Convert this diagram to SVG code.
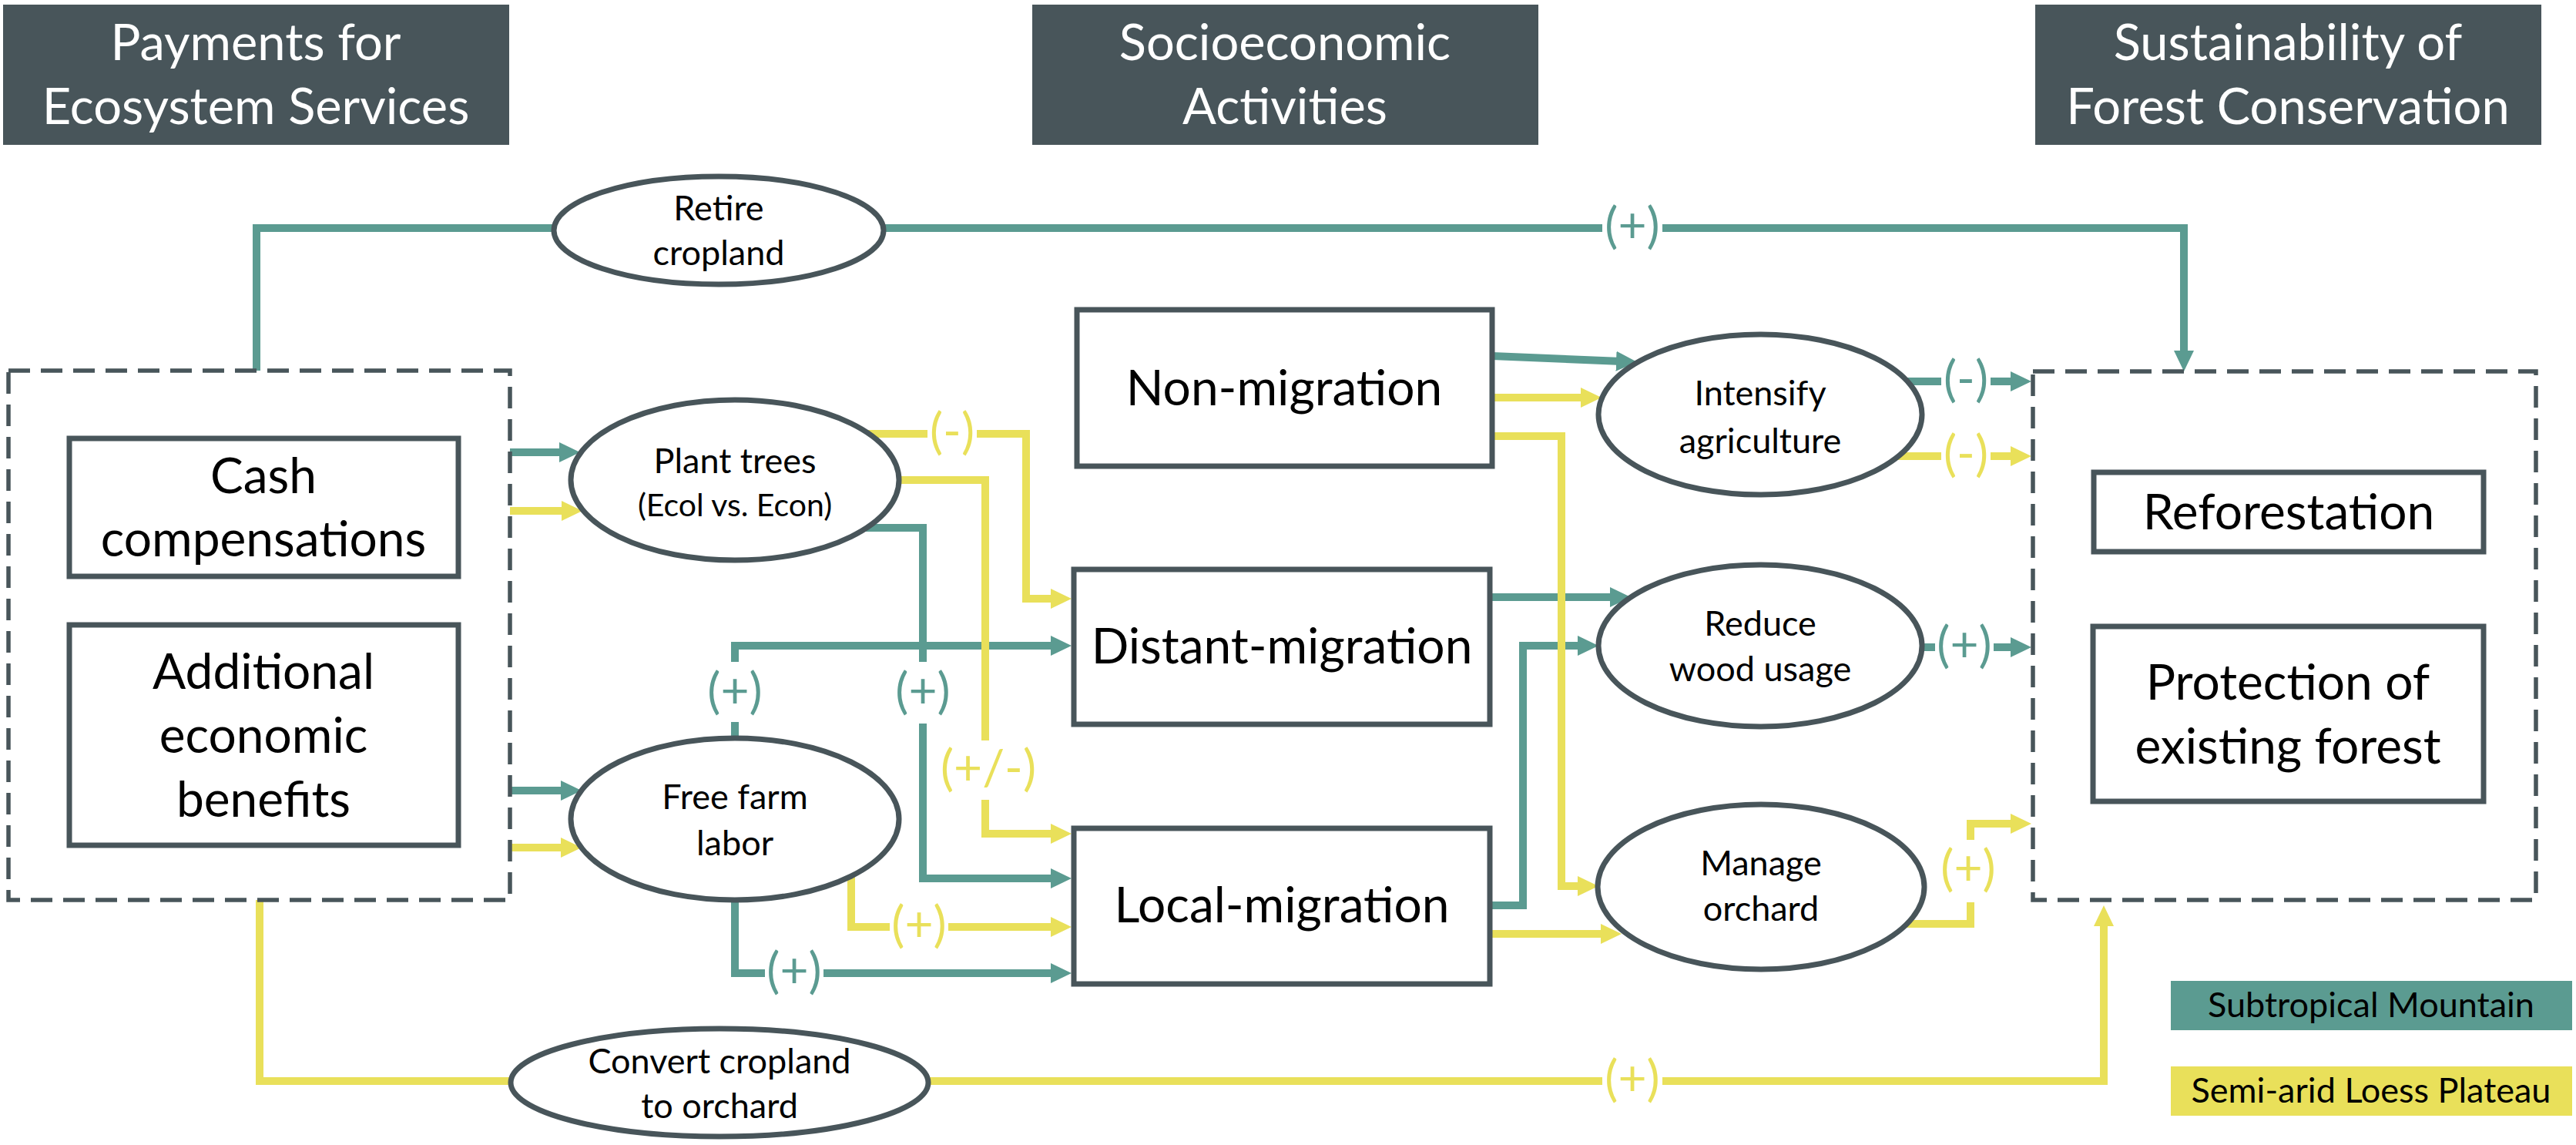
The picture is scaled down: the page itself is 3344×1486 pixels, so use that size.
<svg xmlns="http://www.w3.org/2000/svg" width="3344" height="1486" viewBox="0 0 3344 1486">
<style>
.hdr{fill:#48555a}
.hdrt{fill:#ffffff;font-family:Lato,"Open Sans","Liberation Sans",sans-serif;font-size:65px;text-anchor:middle}
.box{fill:#ffffff;stroke:#48555a;stroke-width:7}
.ell{fill:#ffffff;stroke:#48555a;stroke-width:7}
.dash{fill:none;stroke:#48555a;stroke-width:5.5;stroke-dasharray:28 14}
.bt{fill:#000000;font-family:Lato,"Open Sans","Liberation Sans",sans-serif;font-size:64px;text-anchor:middle}
.et{fill:#000000;font-family:Lato,"Open Sans","Liberation Sans",sans-serif;font-size:45px;text-anchor:middle}
.lg{fill:#000000;font-family:Lato,"Open Sans","Liberation Sans",sans-serif;font-size:45px;text-anchor:middle}
.t{fill:none;stroke:#5b9b91;stroke-width:10}
.y{fill:none;stroke:#e9e05a;stroke-width:10}
.ta{marker-end:url(#aT)}
.ya{marker-end:url(#aY)}
.lt{fill:#5b9b91;font-family:Lato,"Open Sans","Liberation Sans",sans-serif;font-size:64px;text-anchor:middle}
.ly{fill:#e9e05a;font-family:Lato,"Open Sans","Liberation Sans",sans-serif;font-size:64px;text-anchor:middle}
.wb{fill:#ffffff}
</style>
<defs>
<marker id="aT" viewBox="0 0 27 26" refX="7" refY="13" markerWidth="27" markerHeight="26" markerUnits="userSpaceOnUse" orient="auto"><path d="M0,0 L27,13 L0,26 z" fill="#5b9b91"/></marker>
<marker id="aY" viewBox="0 0 27 26" refX="7" refY="13" markerWidth="27" markerHeight="26" markerUnits="userSpaceOnUse" orient="auto"><path d="M0,0 L27,13 L0,26 z" fill="#e9e05a"/></marker>
</defs>
<rect width="3344" height="1486" fill="#ffffff"/>

<g id="headers">
<g id="h-pes"><rect class="hdr" x="4" y="6" width="657" height="182"/><text class="hdrt" x="332" y="78">Payments for</text><text class="hdrt" x="332" y="161">Ecosystem Services</text></g>
<g id="h-soc"><rect class="hdr" x="1340" y="6" width="657" height="182"/><text class="hdrt" x="1668" y="78">Socioeconomic</text><text class="hdrt" x="1668" y="161">Activities</text></g>
<g id="h-sus"><rect class="hdr" x="2642" y="6" width="657" height="182"/><text class="hdrt" x="2970" y="78">Sustainability of</text><text class="hdrt" x="2970" y="161">Forest Conservation</text></g>
</g>

<g id="connectors">
<!-- teal -->
<path class="t" d="M333,481 V296 H720"/>
<path class="t ta" d="M1147,296 H2835 V462"/>
<path class="t ta" d="M662,587 H733"/>
<path class="t ta" d="M662,1026 H735"/>
<path class="t ta" d="M1120,685 H1198 V1140 H1371"/>
<path class="t ta" d="M954,958 V838 H1371"/>
<path class="t ta" d="M954,1168 V1263 H1371"/>
<path class="t ta" d="M1937,462 L2105,469"/>
<path class="t ta" d="M1934,775 H2097"/>
<path class="t ta" d="M1934,1175 H1977 V838 H2055"/>
<path class="t ta" d="M2470,495 H2617"/>
<path class="t ta" d="M2493,840 H2617"/>
<!-- yellow -->
<path class="y ya" d="M662,663 H736"/>
<path class="y ya" d="M662,1100 H735"/>
<path class="y" d="M337,1168 V1403 H663"/>
<path class="y ya" d="M1205,1403 H2731 V1195"/>
<path class="y ya" d="M1120,563 H1332 V777 H1371"/>
<path class="y ya" d="M1165,623 H1279 V1082 H1371"/>
<path class="y ya" d="M1105,1130 V1203 H1371"/>
<path class="y ya" d="M1937,516 H2059"/>
<path class="y ya" d="M1937,566 H2027 V1150 H2055"/>
<path class="y ya" d="M1934,1212 H2085"/>
<path class="y ya" d="M2455,592 H2617"/>
<path class="y ya" d="M2470,1199 H2558 V1069 H2617"/>
<!-- labels -->
<rect class="wb" x="2080" y="288" width="78" height="16"/><text class="lt" x="2119" y="315">(+)</text>
<rect class="wb" x="2080" y="1395" width="78" height="16"/><text class="ly" x="2119" y="1422">(+)</text>
<rect class="wb" x="946" y="859" width="16" height="78"/><text class="lt" x="954" y="919">(+)</text>
<rect class="wb" x="1190" y="859" width="16" height="80"/><text class="lt" x="1198" y="919">(+)</text>
<rect class="wb" x="993" y="1255" width="76" height="16"/><text class="lt" x="1031" y="1282">(+)</text>
<rect class="wb" x="1155" y="1195" width="76" height="16"/><text class="ly" x="1193" y="1222">(+)</text>
<rect class="wb" x="1204" y="555" width="64" height="16"/><text class="ly" x="1236" y="582">(-)</text>
<rect class="wb" x="1271" y="961" width="16" height="77"/><text class="ly" x="1283" y="1019">(+/-)</text>
<rect class="wb" x="2520" y="487" width="64" height="16"/><text class="lt" x="2552" y="514">(-)</text>
<rect class="wb" x="2520" y="584" width="64" height="16"/><text class="ly" x="2552" y="611">(-)</text>
<rect class="wb" x="2512" y="832" width="76" height="16"/><text class="lt" x="2550" y="859">(+)</text>
<rect class="wb" x="2550" y="1090" width="16" height="81"/><text class="ly" x="2555" y="1149">(+)</text>
</g>

<g id="pes-group"><rect class="dash" x="11" y="481" width="651" height="687"/></g>
<g id="cash"><rect class="box" x="90" y="569" width="505" height="179"/><text class="bt" x="342" y="640">Cash</text><text class="bt" x="342" y="722">compensations</text></g>
<g id="additional"><rect class="box" x="90" y="811" width="505" height="286"/><text class="bt" x="342" y="894">Additional</text><text class="bt" x="342" y="977">economic</text><text class="bt" x="342" y="1060">benefits</text></g>

<g id="retire"><ellipse class="ell" cx="933" cy="299" rx="214" ry="70"/><text class="et" x="933" y="286">Retire</text><text class="et" x="933" y="344">cropland</text></g>
<g id="plant"><ellipse class="ell" cx="954" cy="623" rx="213" ry="104"/><text class="et" x="954" y="614">Plant trees</text><text class="et" x="954" y="670" style="font-size:41px">(Ecol vs. Econ)</text></g>
<g id="free"><ellipse class="ell" cx="954" cy="1063" rx="213" ry="105"/><text class="et" x="954" y="1050">Free farm</text><text class="et" x="954" y="1110">labor</text></g>
<g id="convert"><ellipse class="ell" cx="934" cy="1405" rx="271" ry="70"/><text class="et" x="934" y="1393">Convert cropland</text><text class="et" x="934" y="1451">to orchard</text></g>

<g id="non"><rect class="box" x="1398" y="402" width="539" height="203"/><text class="bt" x="1667" y="526">Non-migration</text></g>
<g id="distant"><rect class="box" x="1394" y="739" width="540" height="201"/><text class="bt" x="1664" y="861">Distant-migration</text></g>
<g id="local"><rect class="box" x="1394" y="1075" width="540" height="202"/><text class="bt" x="1664" y="1197">Local-migration</text></g>

<g id="intensify"><ellipse class="ell" cx="2285" cy="538" rx="210" ry="104"/><text class="et" x="2285" y="526">Intensify</text><text class="et" x="2285" y="588">agriculture</text></g>
<g id="reduce"><ellipse class="ell" cx="2285" cy="838" rx="210" ry="105"/><text class="et" x="2285" y="825">Reduce</text><text class="et" x="2285" y="884">wood usage</text></g>
<g id="manage"><ellipse class="ell" cx="2286" cy="1151" rx="212" ry="107"/><text class="et" x="2286" y="1136">Manage</text><text class="et" x="2286" y="1195">orchard</text></g>

<g id="sus-group"><rect class="dash" x="2639" y="482" width="653" height="686"/></g>
<g id="reforestation"><rect class="box" x="2718" y="613" width="506" height="103"/><text class="bt" x="2971" y="687">Reforestation</text></g>
<g id="protection"><rect class="box" x="2717" y="813" width="507" height="227"/><text class="bt" x="2970" y="908">Protection of</text><text class="bt" x="2970" y="991">existing forest</text></g>

<g id="legend">
<g id="leg-sub"><rect x="2818" y="1273" width="521" height="64" fill="#5b9b91"/><text class="lg" x="3078" y="1320">Subtropical Mountain</text></g>
<g id="leg-semi"><rect x="2818" y="1384" width="521" height="64" fill="#e9e05a"/><text class="lg" x="3078" y="1431">Semi-arid Loess Plateau</text></g>
</g>
</svg>
